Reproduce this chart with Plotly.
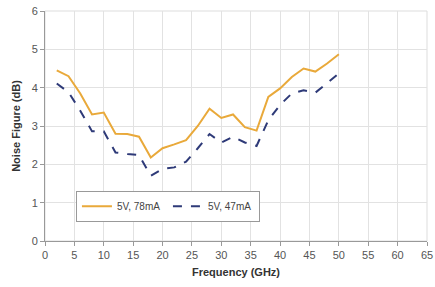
import plotly.graph_objects as go

freq = [2, 4, 6, 8, 10, 12, 14, 16, 18, 20, 22, 24, 26, 28, 30, 32, 34, 36, 38, 40, 42, 44, 46, 48, 50]
nf_78 = [4.45, 4.30, 3.85, 3.30, 3.35, 2.80, 2.79, 2.72, 2.18, 2.42, 2.52, 2.63, 3.00, 3.45, 3.21, 3.30, 2.97, 2.88, 3.76, 3.98, 4.28, 4.50, 4.42, 4.63, 4.87]
nf_47 = [4.11, 3.88, 3.40, 2.86, 2.86, 2.31, 2.27, 2.24, 1.70, 1.88, 1.92, 2.07, 2.42, 2.79, 2.57, 2.72, 2.57, 2.48, 3.15, 3.55, 3.85, 3.93, 3.87, 4.12, 4.37]
names = ["5V, 78mA", "5V, 47mA"]

fig = go.Figure()
fig.add_trace(go.Scatter(x=freq, y=nf_78, mode="lines", name=names[0],
                         line=dict(color="#E9A93A", width=2)))
fig.add_trace(go.Scatter(x=freq, y=nf_47, mode="lines", name=names[1],
                         line=dict(color="#2E3A78", width=2, dash="dash")))

font = dict(family="Liberation Sans, Arial, sans-serif", size=11, color="#555555")
fig.update_layout(
    width=435, height=287,
    margin=dict(l=45, r=8, t=11, b=46),
    paper_bgcolor="white", plot_bgcolor="white",
    font=font,
    showlegend=True,
    legend=dict(orientation="h", x=0.081, y=0.084, xanchor="left", yanchor="bottom",
                bgcolor="white", bordercolor="#999999", borderwidth=1,
                font=dict(size=10, color="#444444"), itemwidth=30,
                entrywidth=46, entrywidthmode="pixels",
                tracegroupgap=0),
    xaxis=dict(range=[0, 65], tick0=0, dtick=5, showgrid=True, gridcolor="#E2E2E2",
               showline=True, linecolor="#999999", linewidth=1, mirror=False,
               ticks="outside", ticklen=4, tickcolor="#999999", zeroline=False,
               automargin=False,
               title=dict(text="<b>Frequency (GHz)</b>", font=dict(size=11, color="#333333"), standoff=8)),
    yaxis=dict(range=[0, 6], tick0=0, dtick=1, showgrid=True, gridcolor="#E2E2E2",
               showline=True, linecolor="#999999", linewidth=1,
               ticks="outside", ticklen=4, tickcolor="#999999", zeroline=False,
               automargin=False,
               title=dict(text="<b>Noise Figure (dB)</b>", font=dict(size=11, color="#333333"), standoff=8)),
    shapes=[dict(type="rect", xref="paper", yref="paper", x0=0, y0=0, x1=1, y1=1,
                 line=dict(color="#DDDDDD", width=1), layer="below")],
)

fig.write_html("out.html", config={"displayModeBar": False},
               post_script="document.body.style.margin='0';document.body.style.padding='0';")
